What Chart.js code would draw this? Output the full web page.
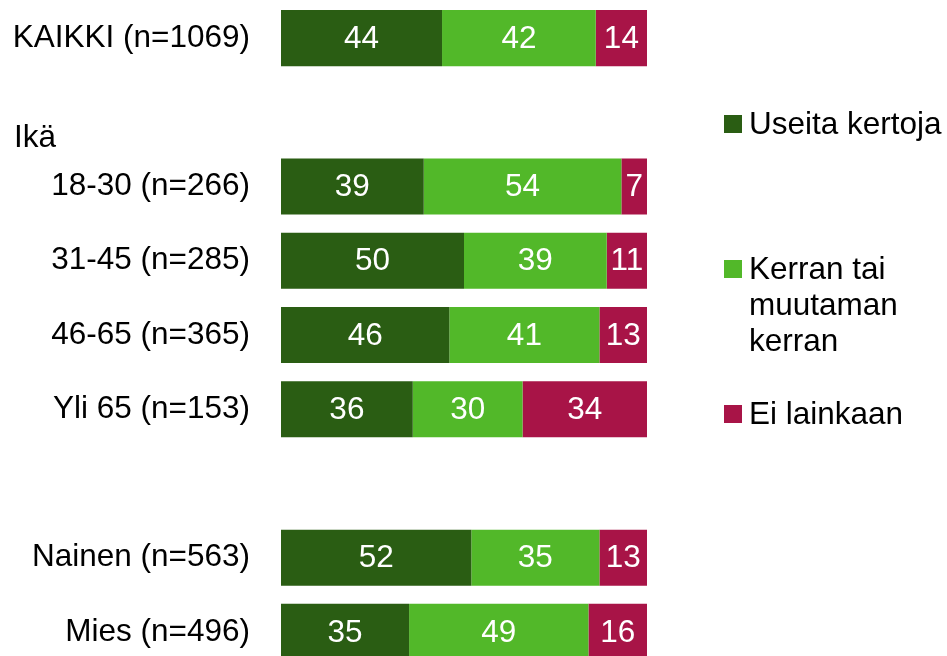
<!DOCTYPE html>
<html>
<head>
<meta charset="utf-8">
<script src="https://cdn.jsdelivr.net/npm/chart.js@4/dist/chart.umd.min.js"></script>
<style>
  html, body { margin: 0; padding: 0; background: #fff; overflow: hidden; }
  #wrap { width: 947px; height: 670px; }
</style>
</head>
<body>
<div id="wrap"><canvas id="answerChart"></canvas></div>
<script>
// Rows (empty strings leave a gap between groups)
const groups = [
  "KAIKKI (n=1069)",
  "",
  "18-30 (n=266)",
  "31-45 (n=285)",
  "46-65 (n=365)",
  "Yli 65 (n=153)",
  "",
  "Nainen (n=563)",
  "Mies (n=496)",
];
const ageHeading = "Ikä";

const severalTimes = [44, null, 39, 50, 46, 36, null, 52, 35];
const onceOrFew = [42, null, 54, 39, 41, 30, null, 35, 49];
const notAtAll = [14, null, 7, 11, 13, 34, null, 13, 16];

const seriesNames = ["Useita kertoja", "Kerran tai muutaman kerran", "Ei lainkaan"];
const seriesColors = ["#2a5d13", "#52b829", "#a81447"];

const FONT = "'Liberation Sans', Arial, sans-serif";
const FONT_SIZE = 31.5;

// white numbers in the middle of each segment
const valueLabels = {
  id: "valueLabels",
  afterDatasetsDraw(chart) {
    const ctx = chart.ctx;
    ctx.save();
    ctx.font = FONT_SIZE + "px " + FONT;
    ctx.fillStyle = "#ffffff";
    ctx.textAlign = "center";
    ctx.textBaseline = "middle";
    chart.data.datasets.forEach((ds, i) => {
      chart.getDatasetMeta(i).data.forEach((bar, j) => {
        const v = ds.data[j];
        if (v == null) return;
        ctx.fillText(String(v), (bar.x + bar.base) / 2, bar.y + 1);
      });
    });
    ctx.restore();
  },
};

// "Ikä" heading above the age rows
const headings = {
  id: "headings",
  afterDraw(chart) {
    const ctx = chart.ctx;
    const y = chart.scales.y;
    ctx.save();
    ctx.font = FONT_SIZE + "px " + FONT;
    ctx.fillStyle = "#000";
    ctx.textAlign = "left";
    ctx.textBaseline = "middle";
    ctx.fillText(ageHeading, 14, y.getPixelForValue(1) + 26);
    ctx.restore();
  },
};

// legend on the right, long names wrapped
const sideLegend = {
  id: "sideLegend",
  afterDraw(chart) {
    const ctx = chart.ctx;
    const x0 = 724, textX = 749, maxW = 947 - textX - 4;
    const top = 124, step = 145, lineH = 36;
    ctx.save();
    ctx.font = FONT_SIZE + "px " + FONT;
    ctx.textAlign = "left";
    ctx.textBaseline = "middle";
    chart.data.datasets.forEach((ds, i) => {
      const y = top + i * step;
      ctx.fillStyle = ds.backgroundColor;
      ctx.fillRect(x0, y - 9, 18, 18);
      ctx.fillStyle = "#000";
      const lines = [];
      let cur = "";
      ds.label.split(" ").forEach((w) => {
        const t = cur ? cur + " " + w : w;
        if (cur && ctx.measureText(t).width > maxW) {
          lines.push(cur);
          cur = w;
        } else {
          cur = t;
        }
      });
      lines.push(cur);
      lines.forEach((ln, k) => ctx.fillText(ln, textX, y + 1 + k * lineH));
    });
    ctx.restore();
  },
};

const ctx = document.getElementById("answerChart").getContext("2d");
new Chart(ctx, {
  type: "bar",
  data: {
    labels: groups,
    datasets: [severalTimes, onceOrFew, notAtAll].map((d, i) => ({
      label: seriesNames[i],
      data: d,
      backgroundColor: seriesColors[i],
      borderWidth: 0,
      barPercentage: 0.755,
      categoryPercentage: 1,
    })),
  },
  options: {
    indexAxis: "y",
    responsive: true,
    maintainAspectRatio: false,
    animation: false,
    layout: { padding: { top: 1, bottom: 1, left: 0, right: 300 } },
    plugins: {
      legend: { display: false },
      tooltip: { enabled: false },
    },
    scales: {
      x: {
        stacked: true,
        min: 0,
        max: 100,
        display: false,
      },
      y: {
        stacked: true,
        grid: { display: false, drawTicks: false },
        border: { display: false },
        ticks: {
          padding: 31,
          color: "#000",
          font: { family: FONT, size: FONT_SIZE },
        },
        afterFit: (s) => {
          s.width = 281;
          s.paddingTop = 0;
          s.paddingBottom = 0;
        },
      },
    },
  },
  plugins: [valueLabels, headings, sideLegend],
});
</script>
</body>
</html>
